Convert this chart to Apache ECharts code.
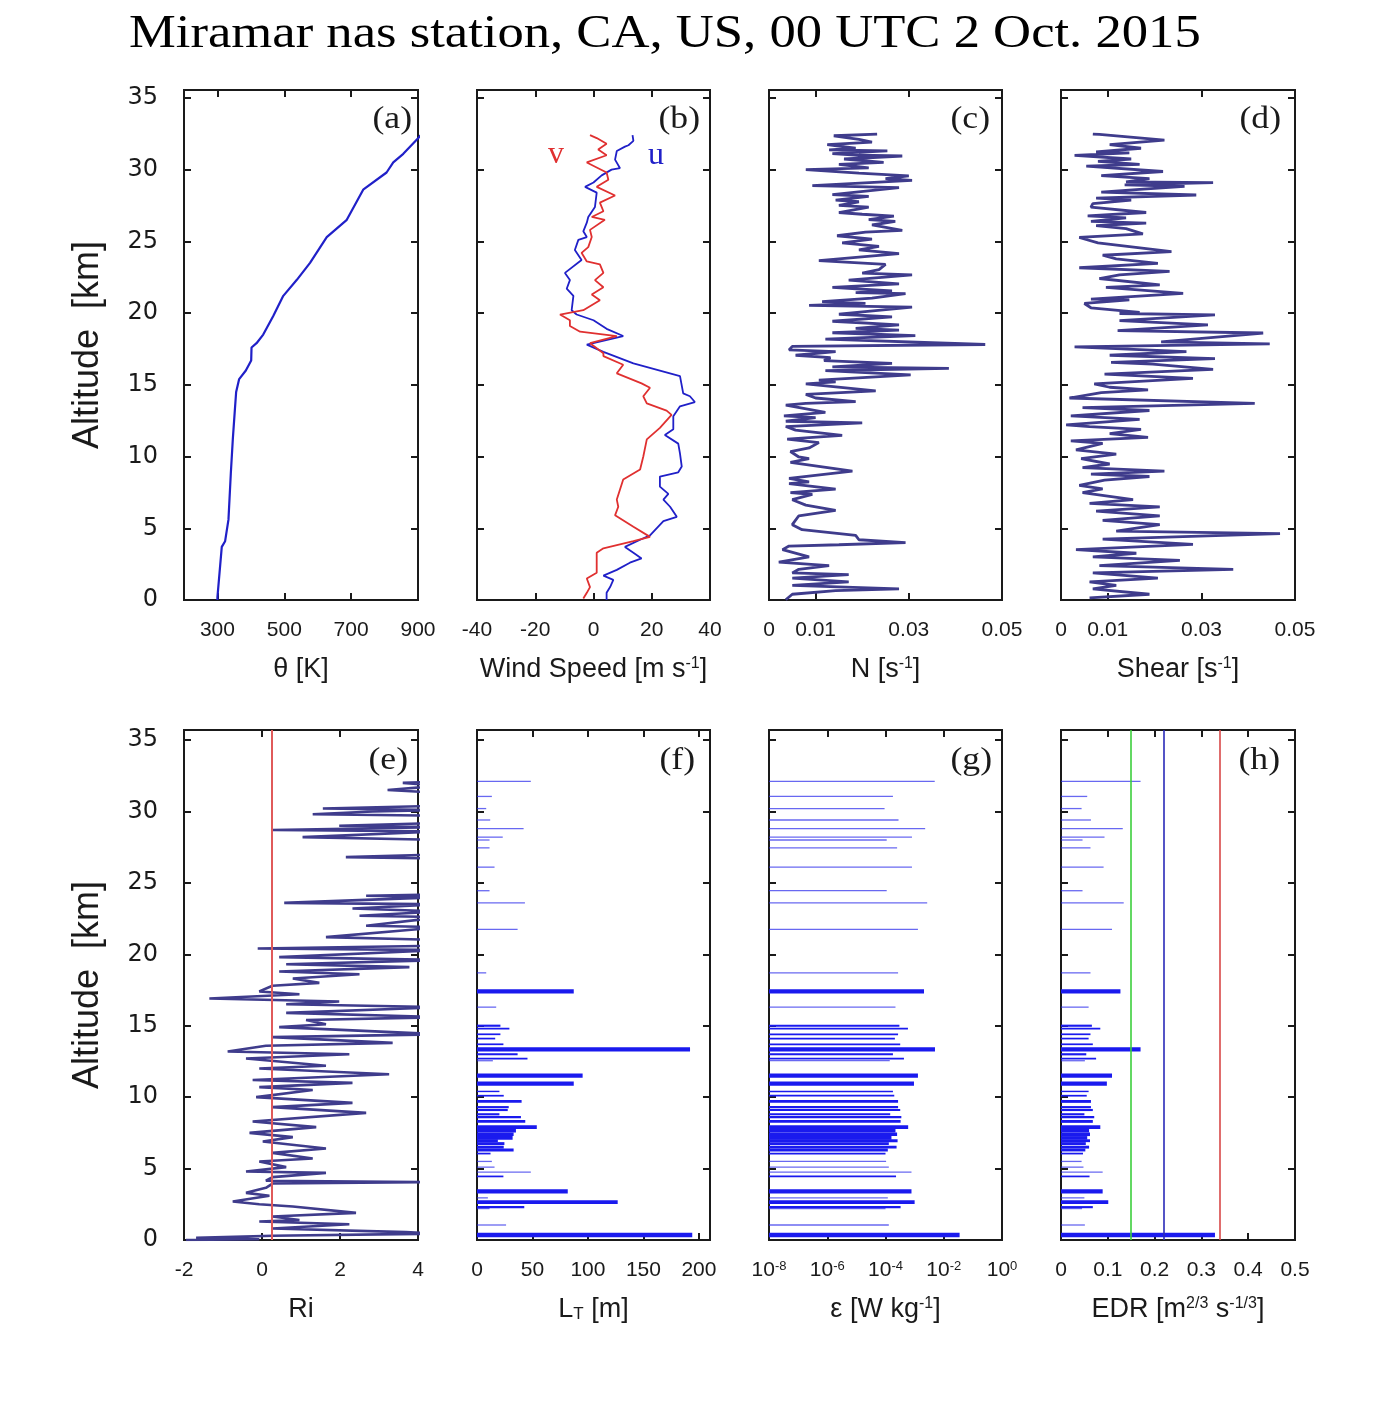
<!DOCTYPE html>
<html><head><meta charset="utf-8">
<script src="https://cdn.jsdelivr.net/npm/echarts@6/dist/echarts.min.js"></script>
<style>html,body{margin:0;padding:0;background:#fff}#c{width:1376px;height:1409px}</style>
</head><body><div id="c"></div>
<script>
// ---------------- DATA ----------------
const TITLE = 'Miramar nas station, CA, US, 00 UTC 2 Oct. 2015';
const altTicks = [0, 5, 10, 15, 20, 25, 30, 35];

// (a) potential temperature: [altitude km, theta K]
const thetaProfile = [[0,300],[0.2,300],[3.7,313],[4.1,323],[5.6,333],[8.8,340],[11.2,346],[13.2,352],[14.5,356],[15.4,365],[16.0,385],[16.7,401],[17.6,402],[17.9,417],[18.5,437],[19.8,467],[21.2,497],[22.3,537],[23.5,577],[25.3,627],[26.5,687],[28.6,736],[29.8,806],[30.5,826],[31.1,856],[32.2,901],[32.4,908]];

// (b) wind components: [altitude km, m/s]
const uProfile = [[0,4.5],[0.5,4.5],[0.9,5.7],[1.4,6.8],[1.7,3.4],[2.1,8],[2.6,12.5],[2.9,16.5],[3.3,13.7],[3.7,10.8],[4.2,16],[4.5,19.4],[5.5,24],[5.8,28.6],[6.5,26.3],[7.0,24],[7.4,25.7],[7.9,22.8],[8.6,22.8],[8.9,29.1],[9.3,30.3],[10.2,29.7],[10.9,29.1],[11.5,24.5],[11.9,27.4],[12.8,27.4],[13.5,29.7],[13.8,34.8],[14.2,33.1],[14.4,30.8],[15.6,29.7],[16.5,13.7],[17.3,3.4],[17.8,-2.3],[18.4,10.2],[18.9,4.5],[19.5,0],[19.9,-5.8],[20.2,-7.5],[21.2,-6.9],[21.7,-9.2],[22.3,-8.1],[22.8,-9.8],[23.7,-4.1],[24.4,-6.4],[25.1,-5.2],[25.3,-2.3],[25.7,-3.5],[26.3,-2.3],[26.7,-1.8],[27.4,0.5],[28.4,1.1],[28.8,-2.9],[29.1,0],[29.6,2.8],[30.0,6.2],[30.1,9.1],[30.7,7.4],[31.3,8],[31.6,10.8],[31.7,12],[32.0,13.7],[32.4,13.4]];
const vProfile = [[0.1,-3.5],[0.5,-2.3],[0.9,-1.2],[1.5,-2.3],[1.9,1.1],[3.3,1.1],[3.6,3.4],[4.1,13.7],[4.4,19.4],[5.1,13.7],[5.9,7.4],[6.5,8.5],[7.0,8],[7.7,9.1],[8.4,10.2],[9.1,16],[10.0,17.1],[11.2,18.3],[12.0,22.8],[12.9,26.8],[13.2,25.1],[13.7,18.3],[14.2,17.1],[14.8,19.4],[15.1,16.5],[15.8,8.0],[16.4,10.2],[17.0,3.4],[17.2,3.4],[17.9,-1.2],[18.4,8],[18.7,-4.6],[19.1,-8.1],[19.5,-8.1],[19.9,-11.5],[20.2,-3.5],[20.9,2.2],[21.3,-0.6],[21.8,3.4],[22.3,0.5],[22.8,3.4],[23.4,2.2],[23.6,-2.3],[24.2,-4.1],[24.6,-1.8],[25.3,-0.6],[25.8,-1.2],[26.5,3.9],[26.7,-0.6],[27.1,3.4],[27.7,2.2],[28.2,7.4],[28.8,1.1],[29.3,5.1],[29.8,4.5],[30.1,1.6],[30.5,-2.3],[31.0,4.5],[31.4,1.6],[31.8,4.5],[32.2,1.1],[32.4,-1.2]];

// (c) buoyancy frequency N: [altitude km, 1/s]
const nProfile = [[32.48,.0232],[32.36,.0139],[32.11,.0193],[31.91,.0221],[31.74,.0125],[31.49,.0186],[31.37,.0129],[31.3,.0254],[31.12,.0136],[31.0,.0193],[30.95,.0286],[30.74,.0161],[30.5,.0246],[30.37,.0150],[30.12,.0214],[30.0,.0079],[29.75,.0193],[29.57,.0300],[29.37,.0250],[29.25,.0307],[28.88,.0093],[28.75,.0279],[28.26,.0136],[28.13,.0214],[27.88,.0143],[27.76,.0193],[27.51,.0150],[27.39,.0214],[27.01,.0150],[26.89,.0200],[26.76,.0268],[26.51,.0214],[26.39,.0271],[26.14,.0221],[25.77,.0286],[25.64,.0207],[25.39,.0146],[25.15,.0221],[24.9,.0157],[24.65,.0236],[24.4,.0193],[24.15,.0279],[23.65,.0107],[23.4,.0250],[23.03,.0236],[22.78,.0200],[22.66,.0307],[22.29,.0171],[22.04,.0279],[21.79,.0136],[21.54,.0264],[21.42,.0186],[21.35,.0293],[21.04,.0221],[20.8,.0114],[20.67,.0207],[20.54,.0086],[20.42,.0307],[19.92,.0150],[19.73,.0264],[19.43,.0136],[19.18,.0279],[18.93,.0186],[18.81,.0279],[18.63,.0136],[18.43,.0314],[18.18,.0121],[17.81,.0464],[17.68,.0050],[17.43,.0043],[17.31,.0143],[17.06,.0057],[16.89,.0132],[16.69,.0118],[16.49,.0264],[16.25,.0136],[16.15,.0386],[15.99,.0121],[15.69,.0304],[15.32,.0107],[15.2,.0143],[15.07,.0079],[14.58,.0229],[14.33,.0079],[14.08,.0100],[13.83,.0186],[13.71,.0079],[13.58,.0036],[13.08,.0121],[12.83,.0032],[12.71,.0100],[12.46,.0036],[12.34,.0200],[12.09,.0036],[11.84,.0057],[11.47,.0157],[11.22,.0039],[10.97,.0107],[10.6,.0086],[10.35,.0046],[9.97,.0064],[9.85,.0086],[9.6,.0046],[8.98,.0179],[8.48,.0043],[8.23,.0086],[8.11,.0043],[7.73,.0143],[7.49,.0046],[7.36,.0093],[6.99,.0050],[6.61,.0079],[6.24,.0143],[5.87,.0064],[5.25,.0050],[4.9,.0071],[4.5,.0186],[4.2,.0193],[4.0,.0293],[3.85,.0150],[3.76,.0043],[3.51,.0029],[3.01,.0086],[2.64,.0021],[2.39,.0129],[2.14,.0064],[1.89,.0050],[1.77,.0171],[1.52,.0050],[1.27,.0171],[1.02,.0050],[0.77,.0279],[0.65,.0143],[0.4,.0050],[0.02,.0036]];

// (d) vertical wind shear: [altitude km, 1/s]
const shearProfile = [[32.48,.0068],[32.45,.0082],[32.06,.0221],[31.74,.0104],[31.49,.0171],[31.24,.0075],[31.17,.0146],[30.99,.0029],[30.74,.0150],[30.57,.0079],[30.37,.0168],[30.25,.0054],[29.87,.0218],[29.58,.0086],[29.37,.0189],[29.15,.0139],[29.1,.0325],[28.93,.0136],[28.83,.0264],[28.63,.0168],[28.43,.0086],[28.23,.0289],[28.01,.0075],[27.88,.0150],[27.63,.0068],[27.39,.0064],[27.01,.0182],[26.77,.0057],[26.64,.0139],[26.39,.0064],[26.27,.0182],[26.09,.0075],[25.89,.0139],[25.52,.0175],[25.27,.0039],[24.9,.0079],[24.28,.0236],[24.03,.0089],[23.78,.0118],[23.46,.0207],[23.16,.0039],[22.91,.0232],[22.66,.0125],[22.41,.0082],[21.96,.0211],[21.79,.0096],[21.37,.0261],[20.97,.0064],[20.92,.0146],[20.67,.0050],[20.37,.0064],[20.05,.0168],[19.97,.0125],[19.88,.0329],[19.48,.0125],[19.18,.0314],[18.78,.0121],[18.61,.0432],[17.99,.0214],[17.86,.0446],[17.64,.0029],[17.31,.0268],[17.06,.0104],[16.82,.0329],[16.57,.0107],[16.44,.0196],[16.07,.0325],[15.75,.0093],[15.45,.0282],[15.07,.0071],[14.83,.0104],[14.65,.0186],[14.45,.0086],[14.08,.0018],[13.71,.0414],[13.41,.0046],[13.21,.0189],[12.84,.0021],[12.59,.0168],[12.21,.0011],[12.09,.0061],[11.89,.0171],[11.59,.0104],[11.34,.0186],[11.09,.0021],[10.92,.0089],[10.47,.0032],[10.17,.0118],[9.85,.0043],[9.48,.0104],[9.23,.0046],[8.98,.0221],[8.78,.0064],[8.61,.0189],[8.36,.0093],[7.99,.0039],[7.74,.0089],[7.49,.0046],[6.99,.0154],[6.74,.0061],[6.49,.0211],[6.19,.0075],[5.87,.0211],[5.55,.0089],[5.25,.0211],[4.8,.0118],[4.62,.0468],[4.25,.0089],[3.88,.0282],[3.51,.0032],[3.26,.0161],[3.01,.0068],[2.76,.0254],[2.39,.0082],[2.14,.0368],[1.89,.0068],[1.52,.0207],[1.27,.0061],[1.02,.0118],[0.77,.0068],[0.4,.0189],[0.15,.0061]];

// (e) Richardson number: [altitude km, Ri] (values above 4 run off the panel)
const riProfile = [[32.1,4.6],[32.0,3.61],[31.8,4.6],[31.5,3.22],[31.3,4.6],[30.4,4.6],[30.2,1.56],[30.1,4.6],[30.0,2.84],[29.8,1.30],[29.7,4.6],[29.2,4.6],[29.0,1.98],[28.9,4.6],[28.7,0.27],[28.6,4.6],[28.2,1.04],[28.0,4.6],[27.0,4.6],[26.8,2.15],[26.7,4.6],[24.2,4.6],[24.1,2.67],[24.0,4.6],[23.6,0.57],[23.5,4.6],[23.2,2.32],[23.0,4.6],[22.7,2.50],[22.6,4.6],[22.0,2.67],[21.9,4.6],[21.2,1.64],[21.0,4.6],[20.6,4.6],[20.4,-0.11],[20.3,4.6],[19.8,0.44],[19.6,4.6],[19.3,0.62],[19.1,3.78],[18.8,0.44],[18.6,2.5],[18.3,0.79],[18.0,1.47],[17.8,0.27],[17.4,-0.07],[17.2,0.96],[16.9,-1.35],[16.7,1.98],[16.5,0.62],[16.3,4.6],[15.9,0.62],[15.6,4.6],[15.4,1.13],[15.1,1.64],[14.9,0.44],[14.4,4.6],[14.2,0.27],[13.8,3.35],[13.6,0.10],[13.2,-0.88],[13.0,2.24],[12.7,-0.41],[12.2,1.64],[12.0,-0.07],[11.6,3.26],[11.2,-0.24],[11.0,2.32],[10.7,-0.07],[10.5,1.30],[10.0,-0.15],[9.6,2.32],[9.3,0.27],[8.9,2.67],[8.3,-0.24],[7.9,1.39],[7.5,-0.32],[7.2,0.79],[6.9,0.02],[6.4,1.64],[6.1,0.27],[5.7,1.30],[5.5,-0.07],[5.1,0.62],[4.8,-0.41],[4.7,1.64],[4.4,0.27],[4.15,0.10],[4.05,4.6],[3.95,0.27],[3.65,0.10],[3.3,-0.41],[3.1,0.19],[2.7,-0.75],[2.5,-0.07],[2.35,0.79],[1.9,2.41],[1.65,0.27],[1.4,0.96],[1.3,-0.07],[1.1,2.24],[0.8,0.27],[0.55,3.69],[0.45,4.6],[0.3,0.27],[0.15,-1.69],[0.05,-0.07],[0,-1.95]];
const riCritical = 0.25;

// (f)-(h) turbulent layers: centre altitude (km), depth (km), Thorpe scale (m), epsilon (W/kg), EDR
const layerAlt   = [32.1,31.05,30.2,29.4,28.8,28.2,28.0,27.45,26.1,24.45,23.6,21.75,18.7,17.4,16.3,15.0,14.8,14.4,14.1,13.7,13.35,13.0,12.7,12.55,11.5,10.95,10.4,10.1,9.7,9.3,9.1,8.8,8.6,8.3,7.9,7.65,7.4,7.15,6.95,6.75,6.5,6.3,6.05,5.5,5.1,4.75,4.45,3.4,2.95,2.65,2.3,2.2,1.05,0.35];
const layerDepth = [0.08,0.03,0.03,0.03,0.07,0.04,0.03,0.03,0.03,0.03,0.05,0.03,0.03,0.3,0.04,0.15,0.12,0.12,0.12,0.12,0.3,0.15,0.12,0.08,0.3,0.3,0.1,0.12,0.2,0.15,0.15,0.15,0.15,0.2,0.25,0.25,0.25,0.25,0.2,0.2,0.2,0.2,0.12,0.05,0.05,0.04,0.12,0.3,0.06,0.25,0.15,0.04,0.07,0.3];
const thorpeLT   = [48.5,13.4,8.3,11.9,42,23.2,11.3,11.3,15.8,11.3,43.2,36.6,8.3,87.2,17.3,21.1,29.2,21.1,16.4,23.8,192,36.6,45.5,14.3,95.2,87.2,20.2,24.1,40.2,28.6,27.7,20.2,39.6,43.5,53.9,35.1,33.0,32.1,18.8,24.7,24.1,33.0,12.2,13.4,15.8,48.5,23.8,81.8,9.8,126.8,42.6,11.3,26.2,194];
const epsilon    = [4.9e-3,1.8e-4,9.3e-5,2.8e-4,2.3e-3,8.1e-4,1.1e-4,2.5e-4,8.1e-4,1.1e-4,2.7e-3,1.3e-3,2.7e-4,2.1e-3,2.2e-4,3.0e-4,5.9e-4,2.7e-4,2.1e-4,3.2e-4,5.0e-3,1.8e-4,4.3e-4,1.4e-4,1.3e-3,9.5e-4,1.8e-4,2.0e-4,2.7e-4,2.7e-4,3.2e-4,1.45e-4,3.5e-4,3.3e-4,6.0e-4,2.2e-4,2.5e-4,1.6e-4,2.6e-4,1.3e-4,2.4e-4,1.2e-4,1.0e-4,1.05e-4,1.3e-4,7.8e-4,2.3e-4,7.8e-4,1.2e-4,1.0e-3,3.3e-4,1.0e-4,1.3e-4,3.5e-2];
const edr        = [0.170,0.056,0.044,0.064,0.132,0.093,0.046,0.063,0.091,0.046,0.134,0.109,0.063,0.127,0.059,0.066,0.084,0.063,0.059,0.068,0.170,0.054,0.075,0.051,0.109,0.098,0.059,0.055,0.064,0.064,0.068,0.050,0.071,0.068,0.084,0.060,0.062,0.056,0.062,0.053,0.060,0.052,0.047,0.044,0.048,0.089,0.061,0.089,0.050,0.101,0.068,0.045,0.051,0.329];
const edrThresholds = [0.15, 0.22, 0.34];

// ---------------- LAYOUT / STYLE ----------------
const SANS = '"Liberation Sans", Arial, Helvetica, sans-serif';
const SANSY = '"DejaVu Sans", "Liberation Sans", sans-serif';
const INK = '#1a1a1a';
const PROFILE = '#3f3c8c';
const BLUE = '#2020c8';
const RED = '#e03030';
const BAR = '#1a1aee';

const boxes = [
  {left:184, top:90, width:234, height:510, yMax:35.55},
  {left:477, top:90, width:233, height:510, yMax:35.55},
  {left:769, top:90, width:233, height:510, yMax:35.55},
  {left:1061, top:90, width:234, height:510, yMax:35.55},
  {left:184, top:730, width:234, height:510, yMax:35.7},
  {left:477, top:730, width:233, height:510, yMax:35.7},
  {left:769, top:730, width:233, height:510, yMax:35.7},
  {left:1061, top:730, width:234, height:510, yMax:35.7}
];

const nameRich = {
  n: {fontFamily:SANS, fontSize:27, color:INK},
  s: {fontFamily:SANS, fontSize:16, color:INK, verticalAlign:'top'},
  b: {fontFamily:SANS, fontSize:17, color:INK, verticalAlign:'bottom'}
};
const logRich = {
  m: {fontFamily:SANS, fontSize:21, color:INK},
  e: {fontFamily:SANS, fontSize:13, color:INK, verticalAlign:'top'}
};
const fix2 = v => v === 0 ? '0' : v.toFixed(2);
const fix1 = v => v === 0 ? '0' : v.toFixed(1);

const xCfg = [
  {min:200, max:900, labels:[300,500,700,900], ticks:[300,500,700], name:'θ [K]'},
  {min:-40, max:40, labels:[-40,-20,0,20,40], ticks:[-20,0,20], name:'{n|Wind Speed [m s}{s|-1}{n|]}'},
  {min:0, max:0.05, labels:[0,0.01,0.03,0.05], ticks:[0.01,0.03], fmt:fix2, name:'{n|N [s}{s|-1}{n|]}'},
  {min:0, max:0.05, labels:[0,0.01,0.03,0.05], ticks:[0.01,0.03], fmt:fix2, name:'{n|Shear [s}{s|-1}{n|]}'},
  {min:-2, max:4, labels:[-2,0,2,4], ticks:[0,2], name:'Ri'},
  {min:0, max:210, labels:[0,50,100,150,200], ticks:[50,100,150,200], name:'{n|L}{b|T}{n| [m]}'},
  {type:'log', min:1e-8, max:1, name:'{n|ε [W kg}{s|-1}{n|]}'},
  {min:0, max:0.5, labels:[0,0.1,0.2,0.3,0.4,0.5], ticks:[0.1,0.2,0.3,0.4], fmt:fix1, name:'{n|EDR [m}{s|2/3}{n| s}{s|-1/3}{n|]}'}
];

const grids = [], xAxes = [], yAxes = [];
boxes.forEach((b, i) => {
  grids.push({left:b.left, top:b.top, width:b.width, height:b.height, show:true, borderColor:INK, borderWidth:2, backgroundColor:'transparent'});
  const c = xCfg[i];
  const tick = {show:true, inside:true, length:7, lineStyle:{color:INK, width:2}};
  const base = {gridIndex:i, type:c.type || 'value', min:c.min, max:c.max, splitLine:{show:false}, axisLine:{show:false, onZero:false}};
  if (c.type === 'log') { base.logBase = 10; base.interval = 2; }
  const xb = Object.assign({}, base, {
    position:'bottom',
    axisTick: Object.assign({}, tick, c.ticks ? {customValues:c.ticks} : {}),
    axisLabel: Object.assign({show:true, margin:20, fontFamily:SANS, fontSize:21, color:INK},
      c.labels ? {customValues:c.labels} : {},
      c.fmt ? {formatter:c.fmt} : {},
      c.type === 'log' ? {formatter: v => '{m|10}{e|' + Math.round(Math.log10(v)) + '}', rich:logRich, showMinLabel:true, showMaxLabel:true} : {}),
    name:c.name, nameLocation:'middle', nameGap:56,
    nameTextStyle:{fontFamily:SANS, fontSize:27, color:INK, rich:nameRich}
  });
  const xt = Object.assign({}, base, {
    position:'top',
    axisTick: Object.assign({}, tick, c.ticks ? {customValues:c.ticks} : {}),
    axisLabel:{show:false}
  });
  xAxes.push(xb, xt);
  const showY = (i === 0 || i === 4);
  const ybase = {gridIndex:i, type:'value', min:0, max:b.yMax, splitLine:{show:false}, axisLine:{show:false, onZero:false}};
  yAxes.push(Object.assign({}, ybase, {
    position:'left',
    axisTick: Object.assign({}, tick, {customValues:altTicks}),
    axisLabel: {show:showY, customValues:altTicks, margin:26, fontFamily:SANSY, fontSize:24, color:INK},
    name: showY ? 'Altitude  [km]' : '', nameLocation:'middle', nameGap:78, nameRotate:90,
    nameTextStyle:{fontFamily:SANS, fontSize:36, color:INK}
  }));
  yAxes.push(Object.assign({}, ybase, {
    position:'right',
    axisTick: Object.assign({}, tick, {customValues:altTicks}),
    axisLabel:{show:false}
  }));
});

function profileSeries(g, prof, color, width) {
  return {type:'line', xAxisIndex:2*g, yAxisIndex:2*g, showSymbol:false, symbol:'none',
    data: prof.map(p => [p[1], p[0]]), lineStyle:{color:color, width:width}, clip:true, z:3};
}

function layerSeries(g, values, baseVal) {
  return {
    type:'custom', xAxisIndex:2*g, yAxisIndex:2*g, clip:true, z:3,
    data: layerAlt.map((a, k) => [values[k], a, layerDepth[k]]),
    encode:{x:0, y:1},
    renderItem: (params, api) => {
      const v = api.value(0), a = api.value(1), d = api.value(2);
      const p1 = api.coord([baseVal, a + d / 2]);
      const p2 = api.coord([v, a - d / 2]);
      let y = p1[1], h = p2[1] - p1[1], fill = BAR;
      if (h < 1.3) { y = (p1[1] + p2[1]) / 2 - 0.65; h = 1.3; fill = 'rgba(40,40,235,0.7)'; }
      return {type:'rect', shape:{x:p1[0], y:y, width:p2[0] - p1[0], height:h}, style:{fill:fill}};
    }
  };
}

const series = [
  profileSeries(0, thetaProfile, BLUE, 2.2),
  profileSeries(1, uProfile, BLUE, 1.8),
  profileSeries(1, vProfile, RED, 1.8),
  profileSeries(2, nProfile, PROFILE, 2.8),
  profileSeries(3, shearProfile, PROFILE, 2.8),
  Object.assign(profileSeries(4, riProfile, PROFILE, 2.6), {
    markLine:{silent:true, symbol:'none', animation:false, label:{show:false},
      lineStyle:{color:'#e05a5a', width:2, type:'solid'}, data:[{xAxis:riCritical}]}
  }),
  layerSeries(5, thorpeLT, 0),
  layerSeries(6, epsilon, 1e-8),
  Object.assign(layerSeries(7, edr, 0), {
    markLine:{silent:true, symbol:'none', animation:false, label:{show:false},
      data: edrThresholds.map((t, k) => ({xAxis:t, lineStyle:{color:['#3ccf3c','#2a2ab8','#d84848'][k], width:1.6, type:'solid'}}))}
  })
];

const panelTags = ['(a)','(b)','(c)','(d)','(e)','(f)','(g)','(h)'];
const tagPos = [[412,120],[700,120],[990,120],[1281,120],[408,761],[695,761],[992,761],[1280,761]];
const graphic = [
  {type:'text', x:129, y:35, scaleX:1.12, style:{text:TITLE, font:'47px "Liberation Serif"', fill:'#000', align:'left', verticalAlign:'middle'}},
  {type:'text', x:556, y:155, style:{text:'v', font:'32px "Liberation Serif"', fill:RED, align:'center', verticalAlign:'middle'}},
  {type:'text', x:656, y:156, style:{text:'u', font:'32px "Liberation Serif"', fill:BLUE, align:'center', verticalAlign:'middle'}}
].concat(panelTags.map((t, i) => ({type:'text', x:tagPos[i][0], y:tagPos[i][1], scaleX:1.15,
  style:{text:t, font:'31px "Liberation Serif"', fill:INK, align:'right', verticalAlign:'middle'}})));

const chart = echarts.init(document.getElementById('c'), null, {renderer:'canvas', width:1376, height:1409});
chart.setOption({
  animation:false,
  backgroundColor:'#ffffff',
  grid:grids, xAxis:xAxes, yAxis:yAxes, series:series, graphic:graphic
});
</script></body></html>
